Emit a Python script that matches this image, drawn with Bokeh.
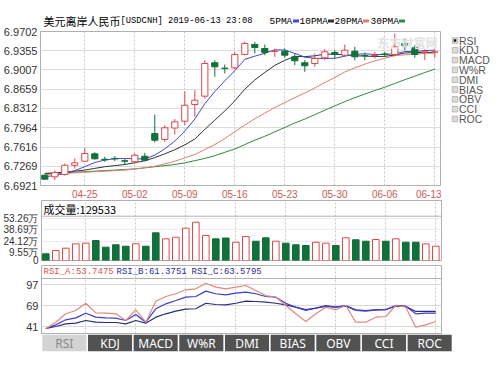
from bokeh.plotting import figure
from bokeh.layouts import column, row
from bokeh.models import (Range1d, FactorRange, FixedTicker, PrintfTickFormatter,
                          Label, Span, ColumnDataSource)
from bokeh.core.properties import value
from bokeh.embed import file_html
from bokeh.resources import INLINE

# ---------------- data ----------------
title_name = "美元离岸人民币"
title_code = "[USDCNH] 2019-06-13 23:08"
dates = ["04-19", "04-22", "04-23", "04-24", "04-25", "04-26", "04-29", "04-30", "05-01", "05-02",
         "05-03", "05-06", "05-07", "05-08", "05-09", "05-10", "05-13", "05-14", "05-15", "05-16",
         "05-17", "05-20", "05-21", "05-22", "05-23", "05-24", "05-27", "05-28", "05-29", "05-30",
         "05-31", "06-03", "06-04", "06-05", "06-06", "06-07", "06-10", "06-11", "06-12", "06-13"]
opens = [6.7107, 6.7078, 6.7119, 6.7287, 6.7360, 6.7493, 6.7395, 6.7410, 6.7368, 6.7349,
         6.7450, 6.7860, 6.7752, 6.7959, 6.8082, 6.8384, 6.8534, 6.9137, 6.9040, 6.9046,
         6.9287, 6.9467, 6.9395, 6.9340, 6.9346, 6.9245, 6.9137, 6.9124, 6.9227, 6.9323,
         6.9274, 6.9346, 6.9270, 6.9268, 6.9296, 6.9287, 6.9485, 6.9408, 6.9329, 6.9329]
highs = [6.7120, 6.7197, 6.7318, 6.7408, 6.7602, 6.7520, 6.7439, 6.7450, 6.7400, 6.7499,
         6.7510, 6.8203, 6.8010, 6.8122, 6.8624, 6.8642, 6.9184, 6.9184, 6.9106, 6.9335,
         6.9516, 6.9516, 6.9467, 6.9395, 6.9395, 6.9305, 6.9184, 6.9305, 6.9382, 6.9364,
         6.9467, 6.9426, 6.9323, 6.9335, 6.9335, 6.9666, 6.9576, 6.9455, 6.9382, 6.9382]
lows = [6.7025, 6.7017, 6.7101, 6.7228, 6.7349, 6.7390, 6.7349, 6.7360, 6.7300, 6.7318,
        6.7360, 6.7697, 6.7710, 6.7842, 6.8010, 6.8161, 6.8492, 6.8884, 6.8943, 6.9021,
        6.9274, 6.9305, 6.9274, 6.9245, 6.9227, 6.9093, 6.8974, 6.9064, 6.9184, 6.9214,
        6.9245, 6.9184, 6.9184, 6.9215, 6.9245, 6.9263, 6.9364, 6.9227, 6.9184, 6.9227]
closes = [6.7035, 6.7155, 6.7287, 6.7331, 6.7499, 6.7403, 6.7385, 6.7403, 6.7360, 6.7468,
          6.7378, 6.7739, 6.7963, 6.8071, 6.8371, 6.8461, 6.9124, 6.9064, 6.9034, 6.9287,
          6.9485, 6.9413, 6.9323, 6.9346, 6.9274, 6.9173, 6.9083, 6.9214, 6.9335, 6.9287,
          6.9364, 6.9245, 6.9263, 6.9274, 6.9290, 6.9426, 6.9444, 6.9287, 6.9335, 6.9335]
ma5 = [6.7080, 6.7100, 6.7140, 6.7190, 6.7261, 6.7335, 6.7381, 6.7404, 6.7410, 6.7404,
       6.7399, 6.7470, 6.7582, 6.7724, 6.7904, 6.8121, 6.8398, 6.8618, 6.8811, 6.8994,
       6.9199, 6.9257, 6.9308, 6.9371, 6.9368, 6.9306, 6.9240, 6.9218, 6.9216, 6.9218,
       6.9257, 6.9289, 6.9299, 6.9287, 6.9287, 6.9300, 6.9339, 6.9344, 6.9356, 6.9365]
ma10 = [6.7140, 6.7150, 6.7160, 6.7180, 6.7200, 6.7230, 6.7260, 6.7280, 6.7300, 6.7333,
        6.7367, 6.7425, 6.7493, 6.7567, 6.7654, 6.7760, 6.7934, 6.8100, 6.8267, 6.8449,
        6.8660, 6.8827, 6.8963, 6.9091, 6.9181, 6.9252, 6.9248, 6.9263, 6.9293, 6.9293,
        6.9281, 6.9264, 6.9258, 6.9251, 6.9253, 6.9278, 6.9314, 6.9322, 6.9322, 6.9326]
ma20 = [6.7120, 6.7130, 6.7140, 6.7150, 6.7160, 6.7170, 6.7180, 6.7190, 6.7200, 6.7220,
        6.7240, 6.7270, 6.7310, 6.7360, 6.7420, 6.7480, 6.7570, 6.7660, 6.7770, 6.7891,
        6.8013, 6.8126, 6.8228, 6.8329, 6.8418, 6.8506, 6.8591, 6.8682, 6.8780, 6.8871,
        6.8971, 6.9046, 6.9111, 6.9171, 6.9217, 6.9265, 6.9281, 6.9292, 6.9307, 6.9310]
ma30 = [6.7130, 6.7140, 6.7150, 6.7160, 6.7170, 6.7180, 6.7190, 6.7200, 6.7210, 6.7220,
        6.7240, 6.7260, 6.7280, 6.7300, 6.7330, 6.7370, 6.7410, 6.7460, 6.7520, 6.7580,
        6.7660, 6.7740, 6.7810, 6.7890, 6.7970, 6.8050, 6.8120, 6.8200, 6.8280, 6.8358,
        6.8436, 6.8506, 6.8572, 6.8636, 6.8696, 6.8763, 6.8832, 6.8895, 6.8961, 6.9023]
volumes = [8.4, 12.6, 15.5, 21.0, 21.8, 25.2, 16.8, 19.8, 18.0, 21.0,
           18.0, 34.9, 27.3, 29.3, 40.7, 48.2, 31.5, 27.3, 28.3, 23.0,
           30.2, 24.3, 28.6, 24.3, 21.8, 19.8, 18.9, 23.0, 21.8, 18.9,
           28.6, 26.1, 24.3, 26.4, 24.3, 27.3, 23.0, 23.0, 21.0, 18.0]
rsi_a = [38.5, 47.4, 58.6, 63.0, 72.7, 59.9, 59.4, 58.6, 49.7, 63.9,
         47.4, 75.4, 81.7, 85.3, 90.6, 91.9, 99.4, 94.1, 91.9, 94.1,
         96.3, 89.7, 83.0, 80.8, 69.7, 58.6, 48.3, 58.6, 67.4, 63.9,
         69.7, 47.4, 47.4, 54.1, 55.0, 69.7, 67.4, 40.8, 43.9, 48.3]
rsi_b = [38.8, 43.9, 50.6, 53.2, 59.4, 54.1, 53.2, 52.8, 49.7, 57.7,
         47.4, 65.3, 71.9, 76.3, 80.8, 81.7, 88.8, 85.3, 83.9, 86.1,
         87.4, 85.3, 81.7, 80.8, 72.7, 67.4, 63.0, 66.1, 69.7, 67.4,
         69.7, 63.0, 62.1, 63.9, 63.9, 69.7, 68.8, 58.6, 59.4, 59.4]
rsi_c = [39.0, 41.7, 45.2, 46.1, 49.7, 47.4, 47.0, 47.0, 45.2, 49.7,
         46.1, 54.1, 58.6, 62.1, 64.8, 65.3, 72.7, 71.0, 70.6, 72.7,
         75.4, 75.0, 74.1, 72.7, 70.6, 67.4, 64.3, 66.1, 68.3, 67.4,
         68.8, 63.9, 63.0, 63.9, 64.3, 68.8, 68.3, 61.7, 61.7, 61.7]
price_ticks = [6.6921, 6.7269, 6.7616, 6.7964, 6.8312, 6.8659, 6.9007, 6.9355, 6.9702]
volume_ticks = [0, 9.55, 24.12, 38.69, 53.26]
rsi_ticks = [41, 69, 97]
week_ticks = [4, 9, 14, 19, 24, 29, 34, 39]
ma_names = ["5PMA", "10PMA", "20PMA", "30PMA"]
rsi_names = ["RSI_A", "RSI_B", "RSI_C"]
rsi_last = [53.7475, 61.3751, 63.5795]
last_volume = 129533
indicators = ["RSI", "KDJ", "MACD", "W%R", "DMI", "BIAS", "OBV", "CCI", "ROC"]

# ---------------- styles / geometry (canvas pixels) ----------------
UP = "#e04848"
DOWN = "#12703a"
MA_COLORS = ["#4646d6", "#333333", "#e0806e", "#2f8a3c"]
RSI_COLORS = ["#e08a7c", "#3c3cd0", "#2c2c80"]
RSI_TEXT = ["#d9534f", "#2b2bb0", "#2b2b90"]
FRAME = "#b0b0b0"
LEFT = 40          # left border shared by every stacked figure
FW = 400           # panel frame width (x 40..440)
TAB_W = 411        # tab strip width (x 40..451)
RB = 45            # right border shared by every stacked figure
SIDE_W = 55        # checkbox list column (x 441..496)
XR = Range1d(-0.43, 39.57)

idx = list(range(len(dates)))


def bare(fig):
    fig.outline_line_color = None
    fig.grid.visible = False
    fig.background_fill_color = "white"
    fig.border_fill_color = "white"


def base(fig):
    fig.outline_line_color = FRAME
    fig.background_fill_color = "white"
    fig.border_fill_color = "white"
    for ax in fig.yaxis:
        ax.major_tick_out = 0
        ax.major_tick_in = 0
        ax.minor_tick_out = 0
        ax.minor_tick_in = 0
        ax.axis_line_color = None
        ax.major_label_text_font = "Liberation Sans"
        ax.major_label_text_color = "#333333"
        ax.major_label_standoff = 3
    fig.xgrid.ticker = FixedTicker(ticks=week_ticks)
    fig.xgrid.grid_line_color = "#c8c8c8"
    fig.xgrid.grid_line_dash = "2 2"


def add_label(fig, x, y, text, color="#000000", size="10px", font="Liberation Sans",
              align="left", style="normal"):
    fig.add_layout(Label(x=x, y=y, text=text, text_color=color, text_font_size=size,
                         text_font=font, text_align=align, text_baseline="middle",
                         text_font_style=style))


def px2x(px):
    return XR.start + (px - LEFT) * (XR.end - XR.start) / FW


# ---------------- header (title + MA legend), canvas-pixel coordinates ----------------
HH = 27
hd = figure(frame_width=FW, frame_height=HH, x_range=Range1d(LEFT, LEFT + FW),
            y_range=Range1d(HH, 0), min_border_left=LEFT, min_border_right=RB,
            min_border_top=0, min_border_bottom=0, x_axis_location=None, y_axis_location=None,
            output_backend="svg", toolbar_location=None, tools="")
bare(hd)
TY = 20.5
hd.text(x=[42], y=[TY - 0.5], text=[title_name], text_baseline="middle",
        text_font=value("Noto Sans CJK SC"), text_font_size="11px", text_color="#000000")
hd.text(x=[119], y=[TY], text=[title_code], text_baseline="middle",
        text_font=value("Liberation Mono"), text_font_size="8.8px", text_color="#000000")
hd.text(x=[268, 298, 333, 369], y=TY, text=ma_names, text_baseline="middle",
        text_font=value("Liberation Mono"), text_font_size="9.5px", text_color="#000000")
hd.rect(x=[294.5, 329.5, 364.5, 400.5], y=TY, width=6, height=3,
        fill_color=MA_COLORS, line_color=None)

# ---------------- price panel ----------------
p1 = figure(frame_width=FW, frame_height=154, x_range=XR,
            y_range=Range1d(price_ticks[0], price_ticks[-1]),
            min_border_left=LEFT, min_border_right=1, min_border_top=4, min_border_bottom=15,
            output_backend="svg", toolbar_location=None, tools="")
base(p1)
p1.yaxis.ticker = FixedTicker(ticks=price_ticks)
p1.yaxis.formatter = PrintfTickFormatter(format="%.4f")
p1.yaxis.major_label_text_font_size = "11px"
p1.ygrid.grid_line_color = "#dcdcdc"
xa = p1.xaxis[0]
xa.ticker = FixedTicker(ticks=week_ticks)
xa.major_label_overrides = {i: dates[i] for i in week_ticks}
xa.major_label_text_color = "#d05a55"
xa.major_label_text_font = "Liberation Sans"
xa.major_label_text_font_size = "10px"
xa.major_label_standoff = 4
xa.major_tick_out = 0
xa.major_tick_in = 0
xa.minor_tick_out = 0
xa.axis_line_color = None

up = [c >= o for o, c in zip(opens, closes)]
src = ColumnDataSource(dict(
    x=idx, high=highs, low=lows,
    top=[max(o, c) for o, c in zip(opens, closes)],
    bottom=[min(o, c) for o, c in zip(opens, closes)],
    color=[UP if u else DOWN for u in up],
    fill=["white" if u else DOWN for u in up]))

for series, col in zip([ma30, ma20, ma10, ma5], MA_COLORS[::-1]):
    p1.line(idx, series, line_color=col, line_width=1)
p1.segment(x0="x", y0="high", x1="x", y1="low", line_color="color", line_width=1, source=src)
p1.vbar(x="x", width=0.62, top="top", bottom="bottom", fill_color="fill",
        line_color="color", line_width=1, source=src)


def p1y(py):
    return price_ticks[-1] - (py - 31) * (price_ticks[-1] - price_ticks[0]) / 154


# watermark (inside the frame)
add_label(p1, px2x(377), p1y(42), "东方财富网", color="#e2e2e2", size="12px",
          font="Noto Sans CJK SC", style="bold")

# ---------------- indicator checkbox list, canvas-pixel coordinates ----------------
sd = figure(frame_width=SIDE_W, frame_height=154, x_range=Range1d(441, 441 + SIDE_W),
            y_range=Range1d(185, 31), min_border_left=0, min_border_right=0,
            min_border_top=4, min_border_bottom=15, x_axis_location=None, y_axis_location=None,
            output_backend="svg", toolbar_location=None, tools="")
bare(sd)
rows_y = [40 + 9.8 * k for k in range(len(indicators))]
sd.rect(x=454.5, y=rows_y, width=5.5, height=5.5, fill_color="#dcdcdc", line_color="#b8b8b8",
        line_width=1)
sd.rect(x=[454.5], y=rows_y[:1], width=2.5, height=2.5, fill_color="#111111", line_color=None)
sd.text(x=458.5, y=rows_y, text=indicators, text_color="#555555", text_baseline="middle",
        text_font=value("Liberation Sans"), text_font_size="10.5px")

# ---------------- volume panel ----------------
VTOP = 60 / 0.794
p2 = figure(frame_width=FW, frame_height=60, x_range=XR, y_range=Range1d(0, VTOP),
            min_border_left=LEFT, min_border_right=RB, min_border_top=0, min_border_bottom=5,
            output_backend="svg", toolbar_location=None, tools="")
base(p2)
p2.xaxis.visible = False
p2.yaxis.ticker = FixedTicker(ticks=volume_ticks)
p2.yaxis.formatter = PrintfTickFormatter(format="%.2f万")
p2.yaxis.major_label_overrides = {0: "0"}
p2.yaxis.major_label_text_font_size = "10px"
p2.ygrid.grid_line_color = "#ececec"
p2.vbar(x=idx, width=0.66, top=volumes, bottom=0,
        fill_color=["white" if u else DOWN for u in up],
        line_color=[UP if u else DOWN for u in up], line_width=1)


def p2y(py):
    return (260 - py) * VTOP / 60


p2.add_layout(Span(location=p2y(215.7), dimension="width", line_color=FRAME, line_width=1))
add_label(p2, px2x(42), p2y(208.5), "成交量:%d" % last_volume, size="11px",
          font="Noto Sans CJK SC")

# ---------------- RSI panel ----------------
R0, R1 = 32.33, 123.0
p3 = figure(frame_width=FW, frame_height=68, x_range=XR, y_range=Range1d(R0, R1),
            min_border_left=LEFT, min_border_right=RB, min_border_top=0, min_border_bottom=1,
            output_backend="svg", toolbar_location=None, tools="")
base(p3)
p3.xaxis.visible = False
p3.yaxis.ticker = FixedTicker(ticks=rsi_ticks)
p3.yaxis.major_label_text_font_size = "11px"
p3.ygrid.grid_line_color = "#d8d8d8"
for series, col in zip([rsi_c, rsi_b, rsi_a], RSI_COLORS[::-1]):
    p3.line(idx, series, line_color=col, line_width=1.2)


def p3y(py):
    return R1 - (py - 265) * (R1 - R0) / 68


p3.add_layout(Span(location=p3y(278), dimension="width", line_color=FRAME, line_width=1))
for name, val, col, hx in zip(rsi_names, rsi_last, RSI_TEXT, [42, 115, 190]):
    add_label(p3, px2x(hx), p3y(271.5), "%s:%.4f" % (name, val), color=col,
              size="9px", font="Liberation Mono")

# ---------------- tabs ----------------
p4 = figure(frame_width=TAB_W, frame_height=17, x_range=FactorRange(*indicators),
            y_range=Range1d(0, 1), min_border_left=LEFT, min_border_right=RB,
            min_border_top=0, min_border_bottom=1, x_axis_location=None, y_axis_location=None,
            output_backend="svg", toolbar_location=None, tools="")
bare(p4)
p4.rect(x=indicators, y=0.5, width=0.965, height=1,
        fill_color=["#d3d3d3" if i == 0 else "#525252" for i in range(len(indicators))],
        line_color=None)
p4.text(x=indicators, y=0.5, text=indicators, text_align="center", text_baseline="middle",
        text_color=["#8a8a8a" if i == 0 else "#ffffff" for i in range(len(indicators))],
        text_font=value("Noto Sans"), text_font_size="12px")

layout = column(hd, row(p1, sd, spacing=0), p2, p3, p4, spacing=0)
open("out.html", "w").write(file_html(layout, INLINE))
